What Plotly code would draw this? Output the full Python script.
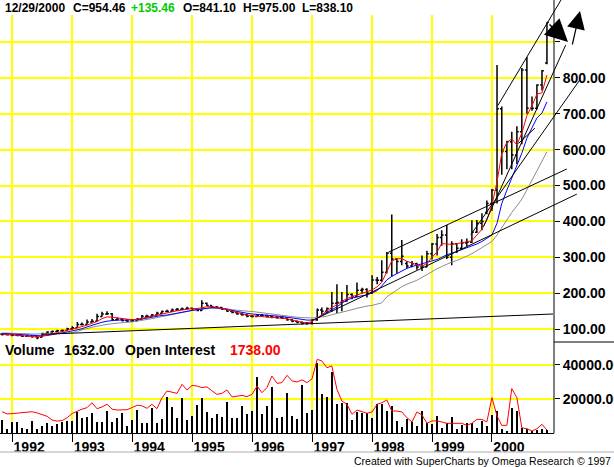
import pandas as pd
import plotly.graph_objects as go
from plotly.subplots import make_subplots

# monthly bars, Nov 1991 .. Dec 2000
months = pd.date_range("1991-11-01", periods=110, freq="MS")

open_px = [86, 85,
           84, 83, 82, 80, 81, 79, 77, 88, 92, 93, 95, 96,
           101, 104, 113, 113, 120, 122, 135, 142, 143, 126, 128, 124,
           122, 123, 128, 136, 136, 139, 144, 149, 150, 153, 155, 156,
           158, 156, 152, 172, 166, 161, 160, 155, 150, 146, 142, 140,
           136, 135, 138, 138, 135, 133, 132, 131, 126, 122, 119, 116,
           117, 125, 153, 150, 157, 172, 174, 178, 196, 191, 208, 210,
           200, 237, 236, 258, 311, 295, 288, 283, 276, 282, 273, 273,
           310, 337, 355, 362, 300, 338, 325, 340, 342, 370, 395, 425,
           450, 487, 714, 595, 622, 585, 650, 822, 715, 715, 780, 841]
high_px = [88, 87,
           86, 85, 83, 84, 82, 80, 90, 94, 96, 98, 99, 104,
           108, 120, 118, 127, 128, 143, 148, 150, 145, 132, 130, 127,
           127, 131, 139, 140, 142, 148, 152, 154, 157, 159, 160, 162,
           160, 158, 180, 174, 166, 164, 162, 157, 152, 148, 146, 142,
           139, 142, 142, 140, 137, 136, 135, 133, 128, 124, 121, 120,
           128, 157, 160, 160, 203, 225, 203, 223, 200, 230, 215, 214,
           250, 245, 292, 315, 419, 297, 348, 290, 290, 285, 305, 318,
           340, 365, 375, 390, 345, 340, 350, 352, 403, 404, 423, 458,
           490, 836, 720, 625, 650, 665, 827, 858, 748, 782, 822, 955]
low_px = [82, 82,
          80, 80, 78, 79, 76, 72, 77, 88, 90, 92, 93, 95,
          98, 104, 110, 112, 118, 121, 134, 139, 124, 124, 121, 119,
          120, 122, 127, 132, 134, 138, 143, 147, 149, 151, 153, 155,
          154, 150, 151, 164, 158, 157, 153, 148, 144, 140, 137, 133,
          132, 134, 135, 132, 130, 129, 128, 123, 119, 116, 113, 112,
          113, 123, 140, 145, 148, 145, 150, 176, 183, 189, 200, 188,
          198, 225, 232, 255, 246, 255, 278, 269, 272, 265, 262, 272,
          294, 305, 332, 295, 278, 312, 322, 330, 340, 368, 375, 420,
          430, 450, 530, 545, 545, 560, 615, 700, 708, 712, 765, 838]
close_px = [85, 84,
            83, 82, 80, 81, 79, 76, 88, 92, 93, 95, 96, 101,
            104, 113, 113, 120, 122, 135, 142, 143, 126, 128, 124, 122,
            123, 128, 136, 136, 139, 144, 149, 150, 153, 155, 156, 158,
            156, 152, 172, 166, 161, 160, 155, 150, 146, 142, 140, 136,
            135, 138, 138, 135, 133, 132, 131, 126, 122, 119, 116, 117,
            125, 153, 150, 157, 172, 174, 178, 196, 191, 208, 210, 200,
            237, 236, 258, 311, 295, 288, 303, 276, 282, 273, 273, 310,
            337, 355, 362, 300, 338, 325, 340, 342, 370, 395, 400, 450,
            487, 714, 595, 622, 585, 650, 822, 715, 715, 780, 820, 954]

# moving averages as drawn
ma_red = [86, 85,
          84, 82, 81, 80, 79, 78, 80, 84, 87, 90, 93, 96,
          99, 103, 107, 111, 116, 121, 129, 134, 133, 131, 129, 127,
          126, 127, 130, 133, 136, 140, 143, 146, 149, 151, 153, 156,
          157, 157, 160, 162, 163, 161, 158, 155, 150, 146, 142, 139,
          137, 136, 136, 135, 134, 133, 132, 129, 125, 121, 119, 117,
          121, 131, 141, 150, 160, 168, 176, 185, 190, 195, 200, 205,
          209, 218, 230, 260, 290, 296, 296, 289, 283, 279, 275, 283,
          300, 315, 338, 337, 336, 338, 340, 342, 346, 362, 378, 404,
          445, 510, 590, 620, 630, 613, 646, 695, 722, 755, 758, 808]
ma_blue = [88, 87,
           86, 85, 84, 83, 82, 81, 81, 82, 84, 86, 89, 92,
           95, 98, 101, 106, 111, 115, 119, 122, 124, 125, 125, 125,
           125, 126, 128, 131, 134, 136, 138, 139, 142, 145, 148, 150,
           152, 154, 156, 158, 160, 159, 158, 155, 152, 149, 146, 144,
           142, 141, 140, 139, 138, 137, 135, 133, 131, 128, 126, 125,
           125, 130, 138, 146, 154, 162, 172, 181, 186, 190, 193, 195,
           200, 207, 220, 237, 247, 255, 262, 269, 274, 278, 282, 285,
           290, 294, 300, 307, 311, 316, 320, 325, 330, 337, 344, 352,
           362, 395, 450, 487, 522, 555, 590, 632, 660, 688, 702, 733]
ma_gray = [89, 89,
           88, 88, 87, 87, 86, 86, 86, 86, 86, 87, 88, 89,
           90, 94, 98, 102, 105, 108, 111, 113, 115, 117, 118, 119,
           120, 122, 124, 126, 129, 132, 135, 138, 141, 144, 147, 150,
           152, 154, 156, 157, 158, 158, 157, 156, 154, 152, 151, 150,
           149, 147, 146, 145, 143, 141, 139, 137, 135, 133, 132, 131,
           131, 132, 133, 136, 140, 143, 146, 150, 154, 158, 162, 164,
           166, 169, 173, 190, 200, 208, 218, 225, 230, 236, 244, 252,
           261, 268, 274, 281, 287, 291, 296, 303, 310, 318, 327, 336,
           344, 362, 383, 405, 425, 443, 462, 488, 514, 540, 567, 594]

volume = [7600, 2500, 6500, 6500, 3100, 2200, 7100, 2500, 4100, 5700,
          4100, 5100, 6500, 7100, 7100, 12400, 9000, 9600, 11600, 6500,
          6500, 12900, 6500, 9000, 11600, 4100, 7600, 13500, 5700, 5700,
          14900, 5700, 8400, 21200, 15500, 9000, 20800, 7600, 10000, 16300,
          20600, 12400, 9000, 11000, 9200, 18200, 9000, 9000, 15900, 11000,
          12900, 33100, 11400, 15900, 27300, 9000, 9600, 23700, 10000, 8000,
          28200, 12000, 13500, 41000, 22700, 21200, 35900, 16900, 17500, 17800,
          7600, 12400, 12000, 11600, 9000, 16900, 16900, 12900, 15900, 7100,
          3700, 8400, 6500, 4100, 12900, 6100, 5100, 10000, 3100, 6100,
          9400, 2500, 4500, 6100, 5700, 3100, 7100, 4100, 10400, 12900,
          2500, 1200, 14900, 12900, 3100, 2200, 1200, 1800, 2500, 1632]
open_interest = [12500, 11200, 11400, 11700, 12200, 12500, 12500, 11800, 10800, 9800,
                 7600, 7000, 7300, 9000, 11500, 13000, 14000, 14900, 17800, 14300,
                 15300, 16900, 14000, 13500, 13500, 13700, 15000, 16300, 16000, 14500,
                 16900, 14300, 20600, 24700, 24000, 23300, 28600, 25300, 28000, 27600,
                 26700, 27100, 24900, 22700, 23300, 25300, 21200, 21700, 22100, 21400,
                 22700, 27600, 23700, 26700, 33500, 29200, 29600, 33900, 30600, 30000,
                 31200, 29600, 32000, 43300, 42400, 38400, 39400, 25700, 18800, 16900,
                 11000, 13500, 12400, 11600, 12400, 16900, 17800, 19400, 12900, 12900,
                 12400, 9000, 6500, 12400, 10600, 5700, 7100, 7100, 6500, 5700,
                 5700, 5700, 5700, 4500, 5700, 8000, 8000, 6500, 20800, 10000,
                 4500, 4500, 26100, 20800, 3100, 2500, 1200, 2500, 5100, 1738]

year_dates = ["1992-01-01", "1993-01-01", "1994-01-01", "1995-01-01", "1996-01-01",
              "1997-01-01", "1998-01-01", "1999-01-01", "2000-01-01"]
year_labels = ["1992", "1993", "1994", "1995", "1996", "1997", "1998", "1999", "2000"]
price_ticks = [100, 200, 300, 400, 500, 600, 700, 800, 900]
price_labels = ["100.00", "200.00", "300.00", "400.00", "500.00", "600.00", "700.00", "800.00", ""]
vol_ticks = [20000, 40000]
vol_labels = ["20000.00", "40000.00"]

# hand drawn trendlines (start -> end)
trend_x0 = ["1992-06-19", "1998-04-01", "1997-01-07", "2000-02-01", "1999-11-07", "1999-08-19", "2000-06-01"]
trend_y0 = [85, 312, 125, 719, 382, 359, 613]
trend_x1 = ["2001-01-07", "2001-04-01", "2001-06-01", "2001-02-25", "2001-03-25", "2001-06-19", "2000-09-19"]
trend_y1 = [142, 546, 476, 1017, 891, 794, 660]

W, H = 614, 467
ML, MR, MT, MB = 0, 60, 15, 34
PW, PH = W - ML - MR, H - MT - MB
vol_frac = 91 / PH

FONT = "Liberation Sans, Arial, sans-serif"
YELLOW = "#FFFF00"

fig = make_subplots(rows=2, cols=1, shared_xaxes=True, vertical_spacing=0,
                    row_heights=[PH - 91, 91])

fig.add_trace(go.Ohlc(x=months, open=open_px, high=high_px, low=low_px, close=close_px,
                      increasing=dict(line=dict(color="black", width=1.5)),
                      decreasing=dict(line=dict(color="black", width=1.5)),
                      tickwidth=0.4, showlegend=False), row=1, col=1)
fig.add_trace(go.Scatter(x=months, y=ma_gray, mode="lines", line=dict(color="#8C8C8C", width=1),
                         showlegend=False), row=1, col=1)
fig.add_trace(go.Scatter(x=months, y=ma_blue, mode="lines", line=dict(color="#0000FF", width=1),
                         showlegend=False), row=1, col=1)
fig.add_trace(go.Scatter(x=months, y=ma_red, mode="lines", line=dict(color="#FF0000", width=1),
                         showlegend=False), row=1, col=1)

fig.add_trace(go.Bar(x=months, y=volume, width=6 * 86400000, marker_color="black",
                     marker_line_width=0, showlegend=False), row=2, col=1)
fig.add_trace(go.Scatter(x=months, y=open_interest, mode="lines",
                         line=dict(color="#FF0000", width=1), showlegend=False), row=2, col=1)

fig.update_xaxes(range=["1991-10-19", "2001-01-13"], tickvals=year_dates, ticktext=year_labels,
                 showgrid=True, gridcolor=YELLOW, gridwidth=1.5, zeroline=False,
                 rangeslider_visible=False, automargin=False)
fig.update_xaxes(showticklabels=False, ticks="", row=1, col=1)
fig.update_xaxes(ticks="outside", ticklen=8, tickcolor="black", tickwidth=1,
                 showline=True, linecolor="black", linewidth=1,
                 ticklabelshift=17, ticklabelstandoff=-7,
                 tickfont=dict(family=FONT, size=14, color="black", weight="bold"),
                 row=2, col=1)

fig.update_yaxes(side="right", showgrid=True, gridcolor=YELLOW, gridwidth=1.5, zeroline=False,
                 ticks="outside", ticklen=5, tickcolor="black", tickwidth=1, showline=False,
                 automargin=False,
                 tickfont=dict(family=FONT, size=14, color="black", weight="bold"))
fig.update_yaxes(range=[64, 975], tickvals=price_ticks, ticktext=price_labels, row=1, col=1)
fig.update_yaxes(range=[0, 53500], tickvals=vol_ticks, ticktext=vol_labels, row=2, col=1)

shapes = [
    dict(type="line", xref="paper", yref="paper", x0=1, x1=1, y0=0, y1=1 + MT / PH,
         line=dict(color="black", width=1)),
    dict(type="line", xref="paper", yref="paper", x0=1, x1=W / PW, y0=vol_frac, y1=vol_frac,
         line=dict(color="black", width=1)),
    dict(type="line", xref="paper", yref="paper", x0=0, x1=W / PW, y0=-19 / PH, y1=-19 / PH,
         line=dict(color="#C8C8C8", width=1.5)),
]

annotations = []
for x0, y0, x1, y1 in zip(trend_x0, trend_y0, trend_x1, trend_y1):
    annotations.append(dict(x=x1, y=y1, ax=x0, ay=y0, xref="x", yref="y", axref="x", ayref="y",
                            text="", showarrow=True, arrowhead=0, arrowwidth=1, arrowcolor="black"))

# the two arrows at the top right
annotations.append(dict(x=568 / PW, y=1 - (42 - MT) / PH, xref="paper", yref="paper",
                        ax=-20, ay=-19, text="", showarrow=True, arrowhead=2, arrowsize=3,
                        arrowwidth=1.5, arrowcolor="black"))
annotations.append(dict(x=580 / PW, y=1 + (MT - 11) / PH, xref="paper", yref="paper",
                        ax=-8, ay=35, text="", showarrow=True, arrowhead=2, arrowsize=3,
                        arrowwidth=1.2, arrowcolor="black"))

header = [("12/29/2000", 3, "black"), ("C=954.46", 71, "black"), ("+135.46", 129, "#00CC00"),
          ("O=841.10", 181, "black"), ("H=975.00", 241, "black"), ("L=838.10", 300, "black")]
for txt, px, col in header:
    annotations.append(dict(text=txt, x=px / PW, y=1 + (MT - 8) / PH, xref="paper", yref="paper",
                            xanchor="left", yanchor="middle", showarrow=False,
                            font=dict(family=FONT, size=12, color=col, weight="bold")))

vol_row = [("Volume", 3, "black"), ("1632.00", 62, "black"),
           ("Open Interest", 123, "black"), ("1738.00", 228, "#FF0000")]
for txt, px, col in vol_row:
    annotations.append(dict(text=txt, x=px / PW, y=(433 - 350) / PH, xref="paper", yref="paper",
                            xanchor="left", yanchor="middle", showarrow=False,
                            font=dict(family=FONT, size=14, color=col, weight="bold")))

annotations.append(dict(text="Created with SuperCharts by Omega Research \u00a9 1997",
                        x=(W - 1) / PW, y=(433 - 461) / PH, xref="paper", yref="paper",
                        xanchor="right", yanchor="middle", showarrow=False,
                        font=dict(family=FONT, size=10.5, color="black")))

fig.update_layout(width=W, height=H, margin=dict(l=ML, r=MR, t=MT, b=MB, autoexpand=False),
                  paper_bgcolor="white", plot_bgcolor="white", showlegend=False,
                  bargap=0, shapes=shapes, annotations=annotations)

# page body has a default 8px margin; drop it so the chart sits at the window corner
fig.write_html("out.html", config={"displayModeBar": False},
               post_script="document.body.style.margin='0';")
